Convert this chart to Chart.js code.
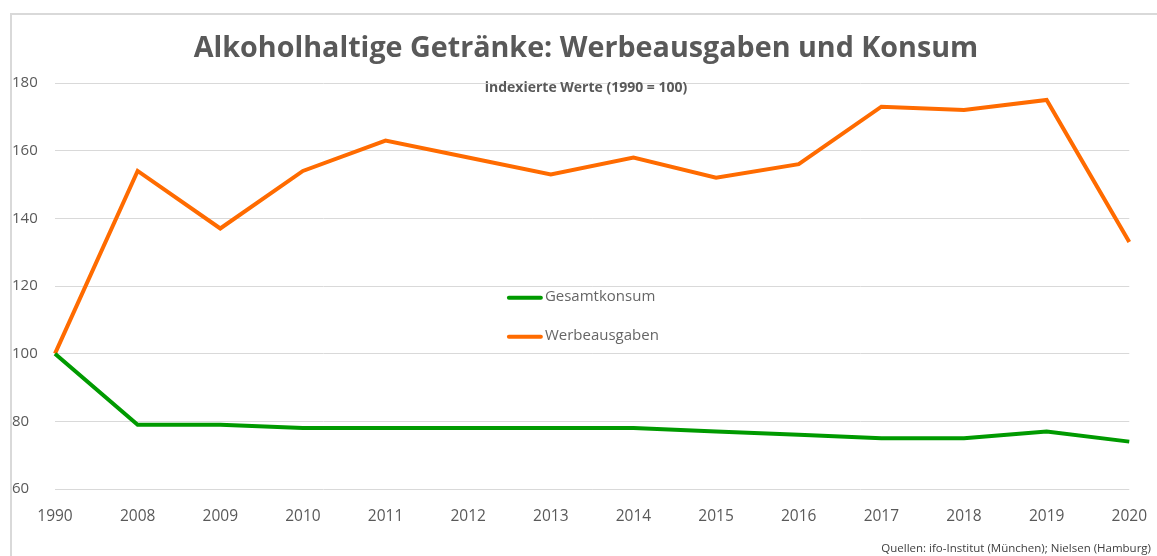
<!DOCTYPE html>
<html>
<head>
    <meta charset="utf-8">
    <title>Alkoholhaltige Getränke</title>
    <style>
        body {
            margin: 0;
            font-family: "Open Sans", Arial, sans-serif;
            background: #fff;
        }

        #wrap {
            position: relative;
            width: 1157px;
            height: 556px;
            overflow: hidden;
        }

        #frame {
            position: absolute;
            left: 10px;
            top: 13px;
            width: 1200px;
            height: 600px;
            border: 2px solid #d9d9d9;
        }

        #title {
            position: absolute;
            left: 0;
            width: 1172px;
            top: 26px;
            text-align: center;
            font-size: 28.7px;
            font-weight: bold;
            color: #595959;
            z-index: 2;
        }

        #subtitle {
            position: absolute;
            left: 0;
            width: 1172px;
            top: 77px;
            text-align: center;
            font-size: 14px;
            font-weight: bold;
            color: #595959;
            z-index: 2;
        }

        #source {
            position: absolute;
            right: 6px;
            top: 540px;
            font-size: 11.5px;
            color: #404040;
            z-index: 2;
        }

        canvas {
            position: absolute;
            left: 0;
            top: 0;
        }
    </style>
</head>
<body>
<div id="wrap">
    <div id="frame"></div>
    <canvas id="lineChart" width="1157" height="556"></canvas>
    <div id="title">Alkoholhaltige Getränke: Werbeausgaben und Konsum</div>
    <div id="subtitle">indexierte Werte (1990 = 100)</div>
    <div id="source">Quellen: ifo-Institut (München); Nielsen (Hamburg)</div>
</div>

<script src="https://cdn.jsdelivr.net/npm/chart.js"></script>
<script>
    var years = ['1990', '2008', '2009', '2010', '2011', '2012', '2013', '2014', '2015', '2016', '2017', '2018', '2019', '2020'];
    var gesamtkonsum = [100, 79, 79, 78, 78, 78, 78, 78, 77, 76, 75, 75, 77, 74];
    var werbeausgaben = [100, 154, 137, 154, 163, 158, 153, 158, 152, 156, 173, 172, 175, 133];
    var yTicks = [60, 80, 100, 120, 140, 160, 180];

    // legend drawn inside the plot, roughly in the middle
    var innerLegend = {
        id: 'innerLegend',
        afterDraw: function (chart) {
            var c = chart.ctx;
            var area = chart.chartArea;
            var x = area.left + (area.right - area.left) * 0.4225;
            var y0 = chart.scales.y.getPixelForValue(116.5);
            c.save();
            c.font = '15px "Open Sans", Arial, sans-serif';
            c.textBaseline = 'middle';
            chart.data.datasets.forEach(function (ds, i) {
                var y = y0 + i * 39;
                c.strokeStyle = ds.borderColor;
                c.lineWidth = 4;
                c.lineCap = 'round';
                c.beginPath();
                c.moveTo(x, y);
                c.lineTo(x + 32, y);
                c.stroke();
                c.fillStyle = '#666666';
                c.fillText(ds.label, x + 36, y - 1);
            });
            c.restore();
        }
    };

    var ctx = document.getElementById('lineChart').getContext('2d');
    var lineChart = new Chart(ctx, {
        type: 'line',
        data: {
            labels: years,
            datasets: [{
                label: 'Gesamtkonsum',
                data: gesamtkonsum,
                borderColor: '#009a00',
                borderWidth: 4,
                pointRadius: 0,
                tension: 0
            }, {
                label: 'Werbeausgaben',
                data: werbeausgaben,
                borderColor: '#ff6b00',
                borderWidth: 4,
                pointRadius: 0,
                tension: 0
            }]
        },
        options: {
            responsive: false,
            animation: false,
            layout: {
                padding: { left: 12, right: 16, top: 83, bottom: 0 }
            },
            plugins: {
                legend: { display: false },
                tooltip: { enabled: false },
                title: { display: false }
            },
            scales: {
                x: {
                    offset: false,
                    grid: { display: false },
                    border: { display: false },
                    ticks: {
                        color: '#595959',
                        padding: 10,
                        maxRotation: 0,
                        autoSkip: false,
                        font: { family: '"Open Sans", Arial, sans-serif', size: 15.5 }
                    },
                    afterFit: function (scale) { scale.height = 67; }
                },
                y: {
                    min: 60,
                    max: 180,
                    afterBuildTicks: function (scale) {
                        scale.ticks = yTicks.map(function (v) { return { value: v }; });
                    },
                    grid: { color: '#d9d9d9', lineWidth: 1, drawTicks: false },
                    border: { display: false },
                    ticks: {
                        color: '#595959',
                        crossAlign: 'far',
                        padding: 0,
                        font: { family: '"Open Sans", Arial, sans-serif', size: 15 }
                    },
                    afterFit: function (scale) { scale.width = 43; }
                }
            }
        },
        plugins: [innerLegend]
    });
</script>
</body>
</html>
